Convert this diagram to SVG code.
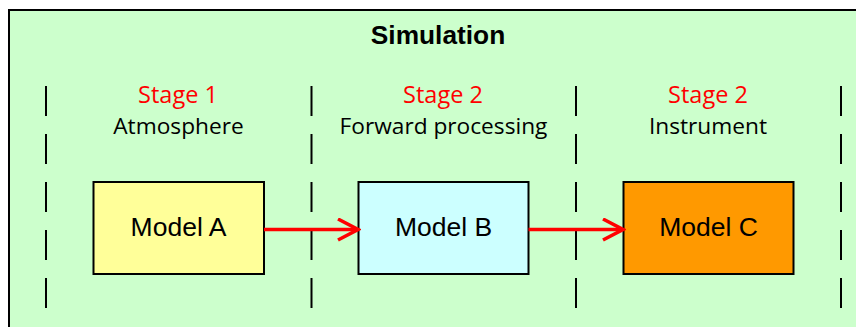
<svg xmlns="http://www.w3.org/2000/svg" width="856" height="327" viewBox="0 0 856 327">
  <style>
    .frame { fill: #CCFFCC; stroke: #000; stroke-width: 2; }
    .divider { stroke: #000; stroke-width: 2; stroke-dasharray: 30 18; fill: none; }
    .box { stroke: #000; stroke-width: 2; }
    .title { font-family: "Liberation Sans", Arial, sans-serif; font-weight: bold; font-size: 26.3px; fill: #000; text-anchor: middle; }
    .stage { font-family: "Open Sans", "Noto Sans", sans-serif; font-size: 23.5px; fill: #FF0000; text-anchor: middle; }
    .desc { font-family: "Open Sans", "Noto Sans", sans-serif; font-size: 22.7px; fill: #000; text-anchor: middle; }
    .label { font-family: "Liberation Sans", Arial, sans-serif; font-size: 26.5px; fill: #000; text-anchor: middle; }
    .link { stroke: #FF0000; stroke-width: 3.5; fill: none; }
  </style>
  <defs>
    <marker id="openArrow" markerUnits="userSpaceOnUse" markerWidth="24" markerHeight="26" refX="21" refY="12" orient="auto">
      <path d="M1,1.5 L21,12 L1,22.5" fill="none" stroke="#FF0000" stroke-width="3.5"/>
    </marker>
  </defs>

  <!-- simulation frame -->
  <g id="simulation">
    <rect class="frame" x="9" y="10" width="860" height="340"/>
    <text class="title" x="438" y="44">Simulation</text>
  </g>

  <!-- stage dividers -->
  <g id="dividers">
    <line class="divider" x1="46" y1="86" x2="46" y2="310"/>
    <line class="divider" x1="311.5" y1="86" x2="311.5" y2="310"/>
    <line class="divider" x1="576" y1="86" x2="576" y2="310"/>
    <line class="divider" x1="841" y1="86" x2="841" y2="310"/>
  </g>

  <!-- stage headings -->
  <g id="stage-atmosphere">
    <text class="stage" x="178" y="103">Stage 1</text>
    <text class="desc" x="178.5" y="134">Atmosphere</text>
  </g>
  <g id="stage-forward">
    <text class="stage" x="443" y="103">Stage 2</text>
    <text class="desc" x="443.5" y="134">Forward processing</text>
  </g>
  <g id="stage-instrument">
    <text class="stage" x="708" y="103">Stage 2</text>
    <text class="desc" x="708" y="134">Instrument</text>
  </g>

  <!-- models -->
  <g id="model-a">
    <rect class="box" x="93.5" y="182" width="170.5" height="92" fill="#FFFF99"/>
    <text class="label" x="178.5" y="236">Model A</text>
  </g>
  <g id="model-b">
    <rect class="box" x="358.5" y="182" width="170" height="92" fill="#CCFFFF"/>
    <text class="label" x="443.5" y="236">Model B</text>
  </g>
  <g id="model-c">
    <rect class="box" x="623.5" y="182" width="170" height="92" fill="#FF9900"/>
    <text class="label" x="708.5" y="236">Model C</text>
  </g>

  <!-- connectors -->
  <g id="connectors">
    <line class="link" x1="264" y1="229.5" x2="358" y2="229.5" marker-end="url(#openArrow)"/>
    <line class="link" x1="528.5" y1="229.5" x2="623" y2="229.5" marker-end="url(#openArrow)"/>
  </g>
</svg>
